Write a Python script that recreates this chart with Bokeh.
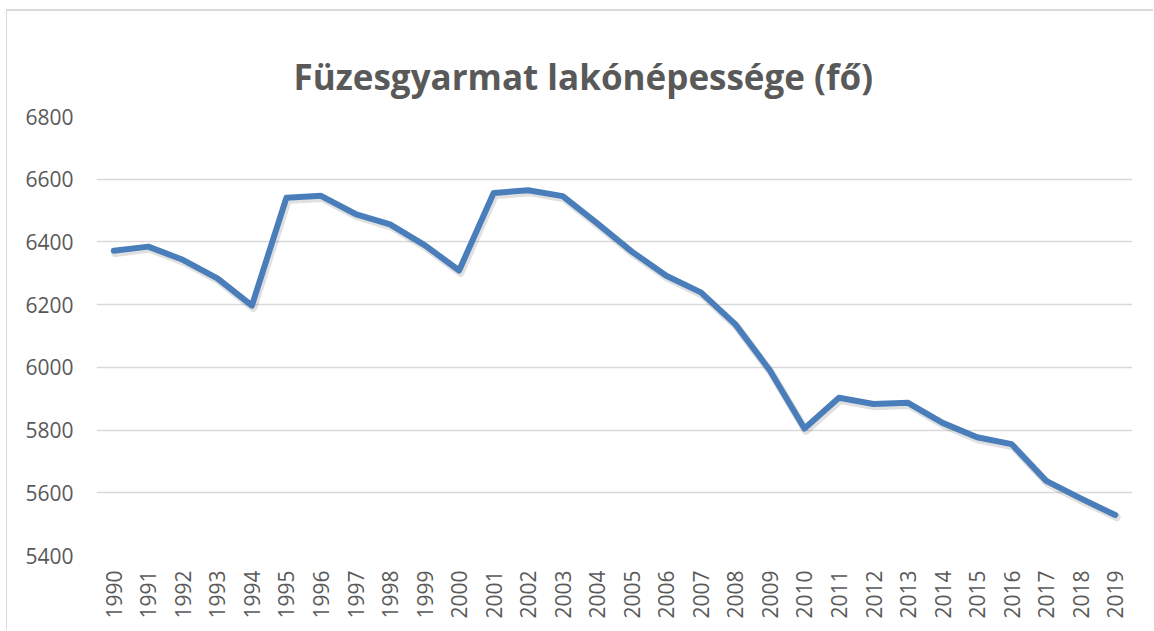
import math
from bokeh.plotting import figure
from bokeh.models import FactorRange, Range1d, SingleIntervalTicker, Title, ColumnDataSource
from bokeh.transform import dodge
from bokeh.embed import file_html
from bokeh.resources import INLINE

title_text = "Füzesgyarmat lakónépessége (fő)"
years = [str(y) for y in range(1990, 2020)]
population = [6372, 6385, 6343, 6284, 6197, 6541, 6547, 6489, 6456, 6390,
              6309, 6556, 6565, 6546, 6459, 6369, 6292, 6239, 6137, 5990,
              5805, 5903, 5883, 5887, 5823, 5777, 5755, 5638, 5582, 5529]
y_min, y_max, y_step = 5400, 6800, 200

TEXT = "#595959"
FONT = "Open Sans"

src = ColumnDataSource(data=dict(year=years, population=population))

p = figure(width=1153, height=630, output_backend="svg", toolbar_location=None,
           x_range=FactorRange(*years, range_padding=0),
           y_range=Range1d(y_min, y_max),
           min_border_left=96, min_border_right=21,
           min_border_top=116, min_border_bottom=75)
p.border_fill_color = None
p.background_fill_color = "white"
p.outline_line_color = None
p.styles = {
    "background": ("linear-gradient(#d9d9d9,#d9d9d9) 6px 9px / 1px 100% no-repeat, "
                   "linear-gradient(#d9d9d9,#d9d9d9) 6px 9px / 100% 2px no-repeat"),
}

t = Title(text=title_text, align="left", offset=197, standoff=30,
          vertical_align="top",
          text_font=FONT, text_font_size="35px", text_font_style="bold",
          text_color=TEXT)
p.add_layout(t, "above")

# soft shadow under the series line
p.line(x=dodge("year", 0.04, range=p.x_range), y=dodge("population", -7, range=p.y_range),
       source=src, line_color="#000000", line_alpha=0.12, line_width=8,
       line_join="round", line_cap="round")
p.line(x="year", y="population", source=src, line_color="#4a7ebb", line_width=6,
       line_join="round", line_cap="round")

p.yaxis.ticker = SingleIntervalTicker(interval=y_step)
p.ygrid.ticker = SingleIntervalTicker(interval=y_step)
p.ygrid.grid_line_color = "#d9d9d9"
p.ygrid.grid_line_width = 1.5
p.xgrid.grid_line_color = None

for ax in (p.xaxis, p.yaxis):
    ax.axis_line_color = None
    ax.major_tick_line_color = None
    ax.minor_tick_line_color = None
    ax.major_tick_out = 0
    ax.major_tick_in = 0
    ax.minor_tick_out = 0
    ax.major_label_text_font = FONT
    ax.major_label_text_font_size = "21px"
    ax.major_label_text_color = TEXT

p.yaxis.major_label_standoff = 23
p.xaxis.major_label_standoff = 15
p.xaxis.major_label_orientation = math.pi / 2

open("out.html", "w").write(file_html(p, INLINE))
